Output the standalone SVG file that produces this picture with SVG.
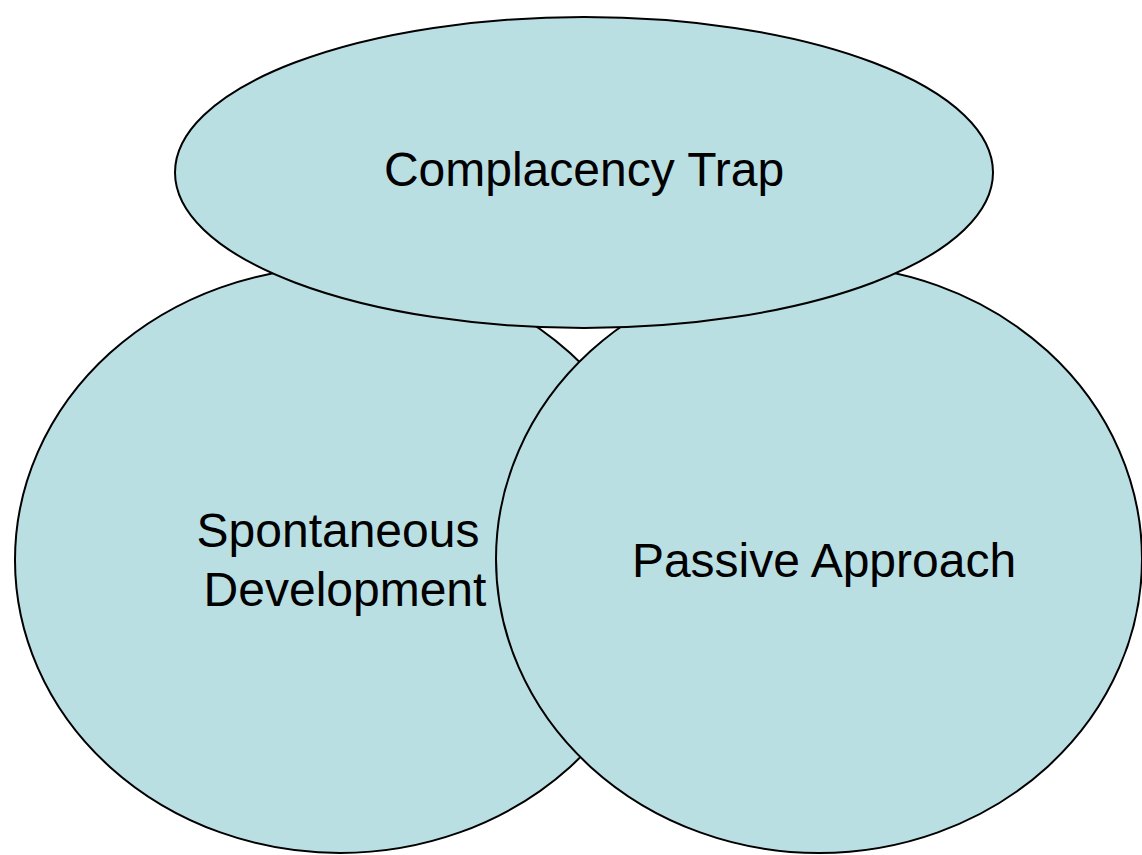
<svg xmlns="http://www.w3.org/2000/svg" width="1142" height="855" viewBox="0 0 1142 855">
<style>
.n{fill:#BADFE3;stroke:#000;stroke-width:2}
.t{font-family:"Liberation Sans",Arial,sans-serif;font-size:48px;fill:#000;text-anchor:middle}
</style>
<rect width="1142" height="855" fill="#fff"/>
<g id="spontaneous-development">
<ellipse class="n" cx="340" cy="560" rx="325" ry="293"/>
<text class="t" x="338" y="547">Spontaneous</text>
<text class="t" x="345" y="606">Development</text>
</g>
<g id="passive-approach">
<ellipse class="n" cx="819" cy="559" rx="323" ry="294"/>
<text class="t" x="824" y="577">Passive Approach</text>
</g>
<g id="complacency-trap">
<ellipse class="n" cx="584" cy="172.5" rx="409" ry="155.5"/>
<text class="t" x="584" y="186">Complacency Trap</text>
</g>
<g id="connectors"></g>
</svg>
